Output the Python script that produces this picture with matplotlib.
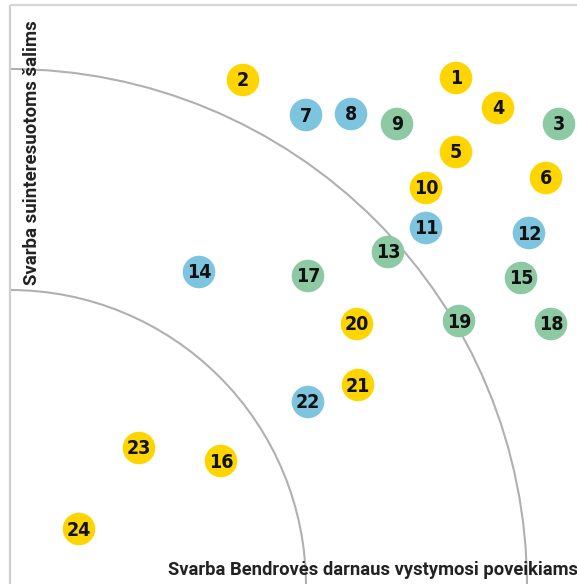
import matplotlib
matplotlib.use("Agg")
import matplotlib.pyplot as plt
from matplotlib.patches import Arc

# Topic numbers, group and position (importance to company impact, importance to stakeholders)
labels = [1, 2, 3, 4, 5, 6, 7, 8, 9, 10, 11, 12, 13, 14, 15, 16, 17, 18, 19, 20, 21, 22, 23, 24]
groups = ["y", "y", "g", "y", "y", "y", "b", "b", "g", "y", "b", "b",
          "g", "b", "g", "y", "g", "g", "g", "y", "y", "b", "y", "y"]
impact = [446, 233, 549, 488, 446, 536, 296, 341, 387, 416, 416, 519,
          378, 189, 511, 211, 298, 541, 449, 347, 348, 298, 129, 69]
stakeholders = [508, 506, 462, 478, 434, 408, 471, 472, 462, 398, 358, 353,
                334, 314, 308, 125, 310, 262, 265, 262, 201, 184, 138, 57]

colors = {"y": "#FFD500", "b": "#7DC4DE", "g": "#8DC9A3"}
arc_radii = [296, 517]

fig = plt.figure(figsize=(5.77, 5.84), dpi=100)
ax = fig.add_axes([0, 0, 1, 1])
ax.set_xlim(-10, 567)
ax.set_ylim(2, 586)
ax.axis("off")

# frame lines
ax.plot([0, 0], [2, 581], color="#cfcfcf", lw=1.6, solid_capstyle="butt")
ax.plot([0, 567], [581, 581], color="#d6d6d6", lw=1.6, solid_capstyle="butt")

for r in arc_radii:
    ax.add_patch(Arc((0, 0), 2 * r, 2 * r, theta1=0, theta2=90,
                     color="#b0b0b0", lw=1.5))

ax.scatter(impact, stakeholders, s=550, c=[colors[g] for g in groups],
           edgecolors="none", zorder=3)
for lab, x, y in zip(labels, impact, stakeholders):
    ax.text(x, y - 1, str(lab), ha="center", va="center", fontsize=14,
            fontweight="bold", fontstretch="condensed", family="DejaVu Sans",
            color="#111111", zorder=4)

ax.text(22, 433, "Svarba suinteresuotoms šalims", rotation=90, ha="center",
        va="center", fontsize=13.4, fontweight="bold", family="Roboto",
        color="#222222")
ax.text(363, 16, "Svarba Bendrovės darnaus vystymosi poveikiams", ha="center",
        va="center", fontsize=13.2, fontweight="bold", family="Roboto",
        color="#222222")

fig.savefig("out.png", dpi=100)
